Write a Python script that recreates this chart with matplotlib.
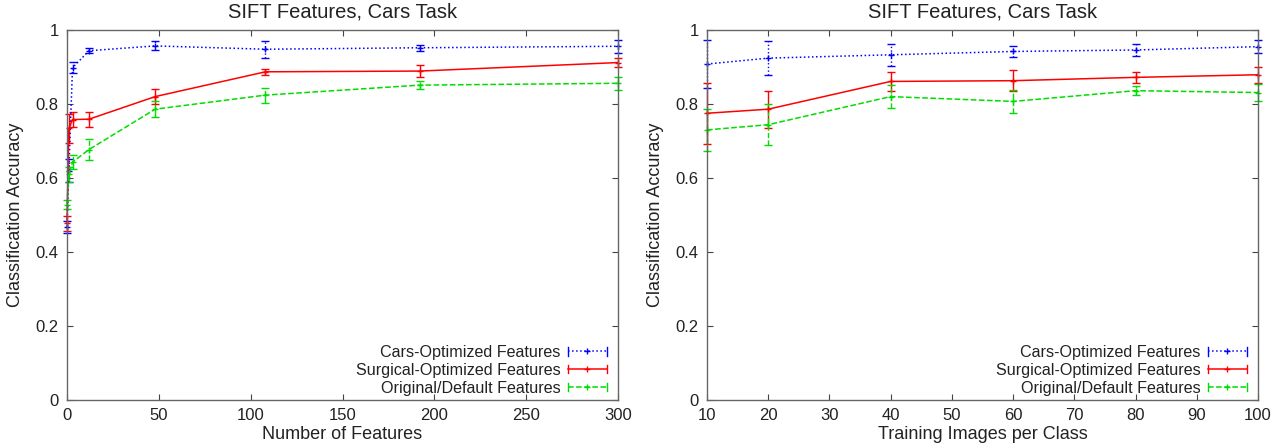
import matplotlib
matplotlib.use("Agg")
import matplotlib.pyplot as plt
from matplotlib.ticker import FormatStrFormatter, MultipleLocator
from matplotlib.lines import Line2D
from matplotlib.legend_handler import HandlerBase

plt.rcParams['font.family'] = ['Liberation Sans', 'DejaVu Sans']

# ---- data: left panel (Number of Features) ----
feat_x = [0, 1, 3, 12, 48, 108, 192, 300]
feat_cars = [0.467, 0.62, 0.898, 0.944, 0.957, 0.948, 0.952, 0.956]
feat_cars_err = [0.017, 0.03, 0.015, 0.006, 0.012, 0.023, 0.008, 0.018]
feat_surg = [0.478, 0.734, 0.758, 0.759, 0.820, 0.887, 0.889, 0.912]
feat_surg_err = [0.02, 0.04, 0.02, 0.02, 0.02, 0.008, 0.016, 0.012]
feat_orig = [0.528, 0.61, 0.643, 0.677, 0.786, 0.824, 0.851, 0.856]
feat_orig_err = [0.012, 0.02, 0.02, 0.028, 0.022, 0.02, 0.011, 0.018]

# ---- data: right panel (Training Images per Class) ----
img_x = [10, 20, 40, 60, 80, 100]
img_cars = [0.908, 0.924, 0.933, 0.942, 0.946, 0.955]
img_cars_err = [0.065, 0.045, 0.03, 0.015, 0.015, 0.018]
img_surg = [0.775, 0.786, 0.861, 0.863, 0.872, 0.879]
img_surg_err = [0.082, 0.05, 0.025, 0.028, 0.014, 0.022]
img_orig = [0.730, 0.744, 0.820, 0.807, 0.836, 0.831]
img_orig_err = [0.056, 0.056, 0.031, 0.03, 0.012, 0.022]

labels = ["Cars-Optimized Features", "Surgical-Optimized Features", "Original/Default Features"]
title = "SIFT Features, Cars Task"

W, H = 1283, 444
fig = plt.figure(figsize=(W / 100, H / 100), dpi=100)
axL = fig.add_axes([67 / W, 1 - 400 / H, 551 / W, 370 / H])
axR = fig.add_axes([707 / W, 1 - 400 / H, 551 / W, 370 / H])

styles = [("#0000ff", ":"), ("#ff0000", "-"), ("#00dd00", "--")]


class ErrHandler(HandlerBase):
    def create_artists(self, legend, orig, xdescent, ydescent, width, height,
                       fontsize, trans):
        c = orig.get_color()
        ls = orig.get_linestyle()
        yc = height / 2 - ydescent
        x0, x1 = -xdescent, -xdescent + width
        h = 3.0
        arts = [
            Line2D([x0, x1], [yc, yc], color=c, ls=ls, lw=1.1),
            Line2D([(x0 + x1) / 2], [yc], color=c, marker="+", ms=5, mew=1.0, ls="none"),
            Line2D([x0, x0], [yc - h, yc + h], color=c, lw=1.0),
            Line2D([x1, x1], [yc - h, yc + h], color=c, lw=1.0),
        ]
        for a in arts:
            a.set_transform(trans)
        return arts


def draw(ax, x, series):
    proxies = []
    for (y, e), (c, ls), lab in zip(series, styles, labels):
        eb = ax.errorbar(x, y, yerr=e, color=c, ls=ls, lw=1.1, marker="+",
                         ms=5, mew=1.0, capsize=3, elinewidth=1.0,
                         capthick=1.0, clip_on=False)
        eb[2][0].set_linestyle(ls)
        proxies.append(Line2D([], [], color=c, ls=ls, label=lab))
    return proxies


def style(ax, xlabel):
    ax.set_ylim(0, 1)
    ax.yaxis.set_major_locator(MultipleLocator(0.2))
    ax.yaxis.set_major_formatter(FormatStrFormatter('%g'))
    ax.tick_params(direction="in", top=True, right=True, labelsize=12,
                   length=4, color="#444444", pad=6, labelcolor="#222222")
    for s in ax.spines.values():
        s.set_color("#666666")
        s.set_linewidth(1.0)
    ax.set_title(title, fontsize=14.5, pad=9, color="#222222")
    ax.set_xlabel(xlabel, fontsize=13, labelpad=2, color="#222222")
    ax.set_ylabel("Classification Accuracy", fontsize=13, labelpad=8, color="#222222")


pL = draw(axL, feat_x, [(feat_cars, feat_cars_err), (feat_surg, feat_surg_err), (feat_orig, feat_orig_err)])
axL.set_xlim(0, 300)
axL.xaxis.set_major_locator(MultipleLocator(50))
style(axL, "Number of Features")

pR = draw(axR, img_x, [(img_cars, img_cars_err), (img_surg, img_surg_err), (img_orig, img_orig_err)])
axR.set_xlim(10, 100)
axR.xaxis.set_major_locator(MultipleLocator(10))
style(axR, "Training Images per Class")

for ax, prox in ((axL, pL), (axR, pR)):
    leg = ax.legend(handles=prox, handler_map={Line2D: ErrHandler()},
                    loc="lower right", bbox_to_anchor=(0.98, 0.012),
                    frameon=False, markerfirst=False, fontsize=11.6,
                    handlelength=2.45, labelspacing=0.17, borderaxespad=0,
                    borderpad=0, handletextpad=0.45)
    for t in leg.get_texts():
        t.set_color("#222222")

fig.savefig("out.png", dpi=100)
